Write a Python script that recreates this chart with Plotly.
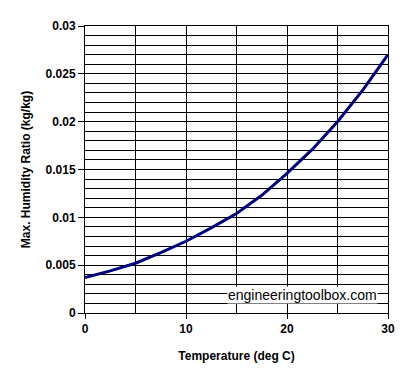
import plotly.graph_objects as go

temperature = [0, 2.5, 5, 7.5, 10, 12.5, 15, 17.5, 20, 22.5, 25, 27.5, 30]
humidity_ratio = [0.0037, 0.0044, 0.0052, 0.0063, 0.0075, 0.0089, 0.0104,
                  0.0123, 0.0146, 0.0171, 0.0200, 0.0233, 0.0270]

x_ticks = [0, 10, 20, 30]
y_ticks = [0, 0.005, 0.01, 0.015, 0.02, 0.025, 0.03]
y_labels = ["0", "0.005", "0.01", "0.015", "0.02", "0.025", "0.03"]

font_family = "Liberation Sans, Arial, sans-serif"

fig = go.Figure()
fig.add_trace(go.Scatter(
    x=temperature, y=humidity_ratio, mode="lines",
    line=dict(color="#000080", width=3), showlegend=False, hoverinfo="skip"))

fig.update_layout(
    width=413, height=385,
    margin=dict(l=77, r=33, t=18, b=80),
    paper_bgcolor="white", plot_bgcolor="white",
    font=dict(family=font_family, size=12, color="black"),
)
fig.update_xaxes(
    range=[0, 30], tickvals=x_ticks, ticktext=[str(v) for v in x_ticks],
    showgrid=True, gridcolor="black", gridwidth=1,
    minor=dict(dtick=5, tick0=0, showgrid=True, gridcolor="black", gridwidth=1),
    ticks="outside", ticklen=5, tickcolor="black", tickwidth=1,
    showline=True, linecolor="black", linewidth=1, mirror=True,
    zeroline=False,
    tickfont=dict(family=font_family, size=12, color="black", weight="bold"),
    title=dict(text="<b>Temperature (deg C)</b>", font=dict(size=12), standoff=16),
)
fig.update_yaxes(
    range=[0, 0.03], tickvals=y_ticks, ticktext=y_labels,
    showgrid=True, gridcolor="black", gridwidth=1,
    minor=dict(dtick=0.001, tick0=0, showgrid=True, gridcolor="black", gridwidth=1),
    ticks="outside", ticklen=6, tickcolor="black", tickwidth=1,
    showline=True, linecolor="black", linewidth=1, mirror=True,
    zeroline=False,
    tickfont=dict(family=font_family, size=12, color="black", weight="bold"),
    title=dict(text="<b>Max. Humidity Ratio (kg/kg)</b>", font=dict(size=12), standoff=12),
)
fig.add_annotation(
    text="engineeringtoolbox.com", xref="paper", yref="paper",
    x=0.967, y=0.063, xanchor="right", yanchor="middle", showarrow=False,
    font=dict(family=font_family, size=14, color="black"),
    bgcolor="white", borderpad=0,
)
fig.write_html("out.html")
